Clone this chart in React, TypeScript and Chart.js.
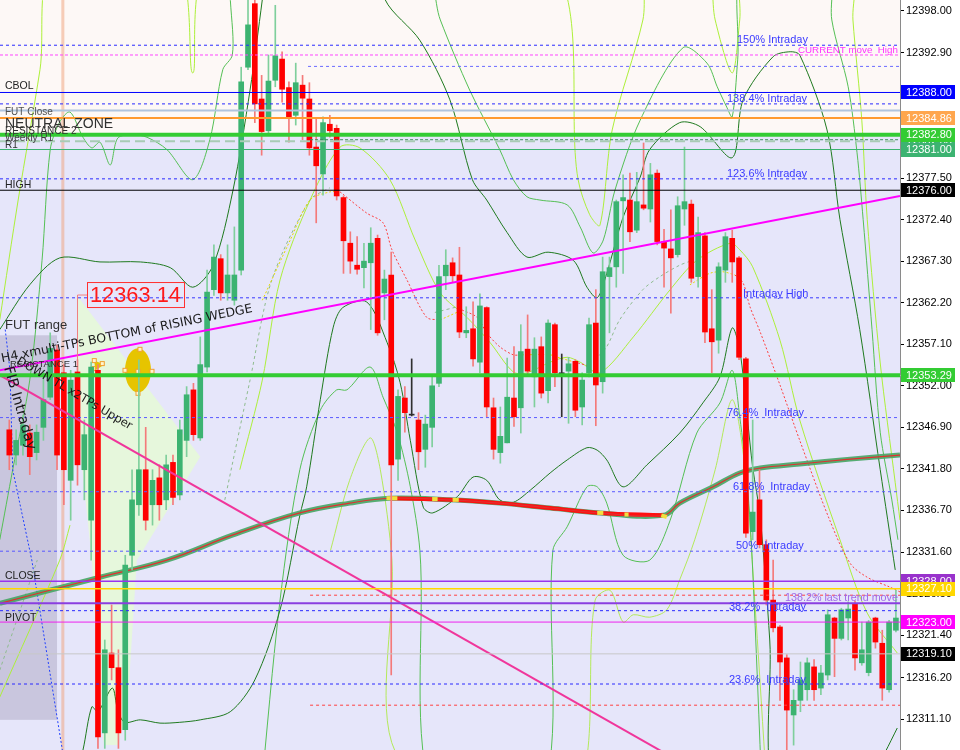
import React, { useEffect, useRef } from 'react';
import { Chart, registerables } from 'chart.js';

Chart.register(...registerables);

// ---------------- data ----------------
const OPEN = [12346.6,12343.5,12344.7,12346.2,12343.8,12346.9,12350.6,12356.4,12353.6,12340.4,12353.7,12341.7,12335.5,12353.9,12309.4,12319.2,12317.4,12309.8,12331.2,12337.4,12341.7,12337.4,12340.7,12338.0,12342.6,12338.6,12345.3,12351.5,12345.6,12354.3,12363.8,12367.6,12363.4,12362.5,12366.2,12391.1,12398.9,12387.2,12383.3,12389.5,12392.1,12388.6,12385.2,12388.9,12387.2,12381.3,12378.0,12384.1,12383.6,12375.1,12369.5,12366.8,12366.5,12367.1,12370.1,12363.4,12365.6,12343.0,12350.5,12348.5,12347.8,12344.2,12346.9,12352.3,12365.5,12367.1,12365.6,12358.5,12359.0,12354.9,12361.6,12349.3,12343.8,12345.0,12350.5,12349.3,12356.5,12353.1,12356.8,12351.4,12359.5,12353.6,12353.8,12355.0,12349.4,12353.6,12359.7,12352.5,12365.4,12366.6,12374.7,12374.8,12371.1,12374.2,12373.7,12378.1,12369.7,12368.8,12368.1,12373.7,12374.3,12365.4,12370.4,12359.0,12357.6,12366.2,12370.1,12367.7,12355.3,12334.1,12338.0,12332.5,12325.7,12322.4,12318.6,12311.6,12313.4,12314.7,12317.5,12314.9,12316.5,12323.5,12321.0,12323.5,12325.3,12318.0,12316.8,12323.5,12320.4,12314.7,12322.0];
const HIGH = [12347.8,12346.6,12348.4,12347.2,12347.2,12353.9,12358.5,12357.0,12354.6,12353.9,12355.2,12347.8,12354.9,12354.6,12320.8,12325.1,12319.6,12331.2,12341.7,12355.2,12346.9,12341.7,12342.3,12343.5,12343.5,12347.8,12351.9,12352.3,12358.0,12366.2,12369.3,12368.1,12369.3,12371.5,12391.1,12399.5,12399.5,12390.1,12392.6,12398.7,12393.0,12389.3,12391.6,12390.1,12389.2,12384.9,12385.0,12385.2,12384.0,12375.3,12370.9,12370.3,12369.5,12371.4,12370.5,12366.2,12368.4,12351.5,12351.9,12355.3,12348.7,12348.4,12353.1,12366.8,12368.7,12367.7,12369.0,12361.7,12362.3,12363.3,12361.7,12350.5,12349.4,12355.4,12356.8,12359.5,12360.7,12357.9,12358.0,12360.1,12359.7,12355.9,12355.5,12355.2,12353.6,12360.3,12363.8,12367.8,12367.8,12374.8,12377.9,12378.1,12378.2,12381.8,12379.3,12378.5,12371.2,12373.6,12375.2,12381.3,12374.8,12372.7,12370.8,12363.8,12367.1,12370.8,12371.1,12367.9,12355.5,12347.8,12341.7,12333.1,12330.6,12322.6,12319.0,12314.7,12318.1,12318.6,12318.4,12317.7,12324.5,12323.6,12324.7,12325.5,12325.6,12323.0,12323.2,12323.6,12322.0,12323.2,12326.9];
const LOW = [12341.7,12342.3,12343.5,12341.1,12342.9,12345.3,12350.3,12341.7,12337.4,12335.5,12339.8,12338.0,12330.6,12307.5,12307.5,12315.9,12307.5,12308.5,12329.4,12336.1,12334.3,12334.9,12335.5,12336.8,12337.4,12338.0,12343.3,12345.3,12345.3,12353.7,12363.1,12362.5,12362.5,12361.9,12365.6,12390.8,12384.3,12380.3,12383.0,12388.7,12386.8,12381.9,12384.0,12382.2,12380.3,12372.0,12375.4,12382.5,12374.8,12365.8,12365.8,12365.7,12364.0,12358.9,12358.2,12360.1,12316.5,12340.4,12346.3,12348.3,12341.7,12342.0,12344.5,12351.9,12363.8,12364.7,12357.9,12357.9,12354.4,12353.6,12348.2,12343.0,12342.5,12345.0,12347.0,12346.2,12353.3,12349.4,12350.5,12349.9,12351.9,12348.2,12347.4,12348.2,12347.2,12353.1,12347.1,12351.1,12358.5,12364.1,12365.8,12369.7,12370.8,12373.6,12372.1,12369.3,12364.1,12360.9,12367.8,12371.7,12364.7,12364.1,12357.3,12353.6,12356.0,12364.7,12364.7,12355.2,12333.4,12333.1,12332.1,12325.1,12321.8,12313.4,12307.3,12307.9,12312.0,12313.4,12313.4,12314.1,12315.9,12316.3,12320.8,12320.8,12317.1,12317.7,12316.4,12319.8,12313.4,12314.4,12321.8];
const CLOSE = [12343.5,12345.3,12347.2,12343.3,12346.3,12350.3,12356.6,12343.5,12341.7,12352.7,12342.3,12346.0,12354.3,12308.9,12319.6,12317.4,12309.4,12330.0,12338.0,12341.7,12335.5,12340.4,12337.4,12342.3,12338.3,12346.6,12350.9,12346.0,12354.6,12363.5,12367.8,12363.4,12365.6,12365.6,12389.3,12396.3,12386.6,12383.2,12389.4,12392.5,12388.4,12385.0,12389.2,12387.3,12381.2,12379.0,12384.3,12383.3,12375.3,12369.8,12367.3,12366.3,12367.3,12369.5,12358.5,12365.1,12342.3,12350.7,12348.7,12348.4,12343.9,12347.3,12352.0,12365.4,12366.8,12365.5,12358.6,12358.8,12355.3,12361.8,12349.4,12344.2,12345.8,12350.6,12348.2,12356.2,12353.8,12356.5,12351.1,12359.7,12353.6,12353.45,12354.7,12349.0,12352.7,12359.5,12352.1,12366.0,12366.5,12374.6,12375.1,12370.9,12374.6,12373.8,12377.9,12369.7,12368.9,12367.7,12374.1,12374.6,12365.2,12370.8,12358.6,12357.4,12366.6,12370.3,12367.2,12355.5,12333.9,12336.5,12332.5,12325.7,12322.3,12318.1,12312.2,12313.4,12315.9,12318.0,12314.7,12316.75,12323.9,12321.0,12324.5,12324.6,12318.6,12319.6,12323.0,12320.55,12314.9,12323.0,12323.5];

const Y_TICKS = [12398.0,12392.9,12387.8,12382.7,12377.5,12372.4,12367.3,12362.2,12357.1,12352.0,12346.9,12341.8,12336.7,12331.6,12326.5,12321.4,12316.2,12311.1];
const Y_MIN = 12307.3;
const Y_MAX = 12399.35;
const X_MIN = -1.364;
const X_MAX = 130.6;

// thick moving average
const MA = [[-1.4,12325.3],[13.3,12328.5],[23.1,12330.6],[32.8,12333.7],[42.6,12336.4],[49.9,12337.6],[55.8,12338.2],[64.6,12338.0],[71.9,12337.6],[79.3,12337.0],[86.6,12336.4],[95.9,12336.1],[98.3,12337.6],[103.2,12339.6],[107.1,12341.3],[110.1,12341.9],[115.9,12342.4],[123.3,12343.0],[130.6,12343.5]];
const MA_RED = [[55.8,12338.2],[64.6,12338.0],[71.9,12337.6],[79.3,12337.0],[86.6,12336.4],[95.9,12336.1]];
const MA_YELLOW = [
  [[55.3,12338.2],[56.9,12338.2]],
  [[62.0,12338.1],[62.8,12338.1]],
  [[65.0,12338.0],[65.9,12338.0]],
  [[86.2,12336.4],[87.1,12336.4]],
  [[90.2,12336.2],[90.8,12336.2]],
  [[95.6,12336.1],[96.4,12335.9]],
];

// bands
const DG_UPPER = [[-1.4,12358.9],[3.0,12364.4],[7.4,12367.7],[13.3,12367.2],[19.2,12367.2],[23.6,12366.5],[26.9,12364.1],[29.9,12366.8],[32.8,12376.0],[35.3,12388.3],[37.1,12399.4],[38.2,12406.7],[53.6,12406.7],[55.1,12399.4],[60.2,12394.4],[64.6,12387.1],[67.9,12377.3],[70.0,12374.8],[73.0,12370.8],[75.9,12367.8],[79.0,12368.4],[82.7,12367.4],[84.7,12364.1],[86.2,12362.8],[87.6,12365.8],[90.0,12372.7],[92.5,12377.6],[93.9,12381.0],[98.3,12384.3],[101.3,12383.8],[106.0,12380.0],[107.6,12387.1],[112.0,12392.4],[114.5,12393.0],[115.9,12392.6],[119.9,12383.4],[121.8,12372.4],[124.7,12358.9],[127.7,12341.7],[129.9,12329.4]];
const DG_LOWER = [[8.9,12301.2],[10.8,12307.3],[12.1,12312.6],[13.0,12312.0],[15.1,12314.9],[15.9,12312.2],[16.9,12310.7],[19.2,12311.0],[22.1,12310.6],[25.0,12310.7],[28.0,12311.0],[32.4,12312.0],[36.0,12315.9],[39.7,12324.5],[42.6,12336.1],[43.6,12339.6],[45.6,12350.3],[47.5,12359.2],[48.9,12361.6],[52.4,12362.3],[55.4,12357.3],[57.3,12352.4],[58.8,12345.3],[60.7,12337.1],[62.1,12336.4],[65.7,12338.4],[68.0,12340.8],[70.0,12340.4],[71.9,12338.0],[73.9,12337.7],[76.4,12339.2],[79.3,12341.3],[81.8,12342.9],[84.7,12344.4],[86.2,12344.1],[87.6,12342.9],[90.0,12339.6],[93.5,12342.3],[98.3,12346.2],[101.7,12349.9],[104.2,12353.1],[106.0,12359.1],[107.1,12356.4],[108.2,12348.2],[109.0,12342.0],[110.1,12335.9],[111.5,12320.8],[112.7,12301.2],[124.7,12301.2],[128.4,12307.0],[130.2,12310.0]];
const MG_UPPER = [[-1.4,12333.1],[0.5,12341.7],[3.0,12352.7],[4.8,12367.4],[6.0,12381.0],[7.4,12384.4],[8.9,12385.6],[10.8,12382.5],[12.1,12381.2],[13.3,12381.9],[14.8,12379.1],[15.9,12382.4],[18.1,12382.8],[20.2,12382.5],[23.1,12381.0],[26.9,12377.3],[29.4,12382.2],[31.3,12390.8],[32.7,12392.6],[33.8,12404.3],[60.2,12404.3],[63.2,12396.9],[67.5,12388.3],[71.9,12381.0],[73.9,12377.3],[75.9,12375.2],[77.8,12374.8],[81.8,12374.2],[83.7,12371.5],[85.6,12368.3],[87.1,12369.9],[88.8,12376.0],[92.5,12384.6],[98.8,12393.5],[102.3,12391.6],[103.8,12388.7],[105.2,12386.2],[106.0,12385.0],[106.8,12392.0],[107.9,12404.3],[120.0,12404.3],[120.6,12396.9],[123.0,12388.7],[124.3,12380.6],[125.2,12372.4],[126.5,12358.9],[127.7,12346.3],[129.4,12338.0],[130.3,12333.1]];
const MG_LOWER = [[36.8,12301.2],[39.7,12325.7],[42.6,12341.7],[45.6,12349.0],[48.0,12351.5],[49.5,12351.5],[52.9,12354.3],[54.8,12350.6],[56.9,12346.2],[58.8,12339.6],[60.2,12331.8],[62.4,12301.2],[77.8,12301.2],[79.7,12331.8],[81.8,12334.7],[84.7,12339.6],[86.2,12339.6],[87.6,12337.6],[90.0,12331.2],[93.9,12330.6],[96.9,12335.5],[100.8,12346.2],[104.2,12349.9],[106.0,12353.9],[107.1,12348.2],[108.2,12340.1],[109.0,12329.4],[110.4,12301.2]];
const YG_UPPER = [[-1.4,12360.1],[1.3,12374.8],[4.5,12390.8],[6.7,12404.3],[24.3,12404.3],[26.9,12390.4],[29.9,12404.3],[78.5,12404.3],[83.4,12377.3],[85.1,12373.0],[86.6,12371.7],[88.4,12383.4],[92.9,12396.9],[93.9,12404.3],[102.0,12404.3],[103.5,12396.9],[106.0,12390.4],[107.1,12396.9],[107.9,12404.3],[123.3,12404.3],[123.7,12396.9],[125.0,12384.6],[125.8,12372.4],[127.7,12354.8],[129.9,12340.1],[130.6,12335.5]];
const YG_MID = [[33.8,12341.7],[37.1,12352.7],[39.7,12365.0],[44.1,12374.8],[48.5,12381.3],[51.4,12381.2],[55.8,12377.3],[59.5,12369.9],[63.2,12363.4],[67.1,12360.4],[70.5,12357.3],[73.9,12353.7],[75.9,12353.6],[79.3,12354.9],[81.8,12355.5],[83.7,12354.9],[86.6,12353.6],[91.5,12358.0],[96.9,12363.8],[100.8,12367.4],[105.7,12369.5],[107.1,12368.7],[109.0,12366.6],[113.0,12357.6],[115.9,12347.8],[121.8,12333.1],[125.8,12324.1],[130.2,12319.2]];
const YG_LOWER = [[-1.4,12313.8],[7.4,12330.6],[8.9,12334.9]];
const YG_LOWER2 = [[47.1,12331.8],[49.9,12340.4],[52.9,12345.6],[54.4,12341.7],[56.1,12330.6],[57.3,12306.1],[82.2,12301.2],[85.9,12325.7],[88.1,12326.9],[90.0,12323.0],[91.5,12323.9],[93.9,12323.6],[96.4,12324.5],[98.3,12328.2],[100.5,12333.1],[103.5,12341.7],[106.0,12350.3],[107.9,12341.7],[109.3,12325.7],[110.8,12306.1]];
const RED_DOTS = [
  [[48.5,12375.8],[52.4,12373.2],[54.8,12372.0],[56.1,12368.7],[58.3,12365.0],[61.2,12360.4],[63.2,12360.1]],
  [[66.4,12361.3],[68.6,12360.4],[70.0,12358.5],[71.9,12356.8],[73.9,12355.8],[75.2,12355.8]],
  [[83.4,12354.8],[85.1,12354.4]],
  [[106.4,12365.6],[107.6,12364.6],[108.6,12361.7],[110.1,12358.6],[113.0,12352.1],[115.9,12345.3],[120.3,12335.5],[123.3,12330.2],[125.8,12328.5],[129.1,12327.3],[130.6,12326.7]],
];
const YELLOW_DOTS = [
  [[37.1,12362.5],[41.2,12369.9],[44.1,12374.8],[47.0,12375.8],[48.5,12375.8]],
  [[63.2,12360.1],[66.4,12361.3]],
  [[75.2,12355.8],[79.3,12355.8],[80.8,12355.4],[83.4,12354.8]],
  [[99.8,12364.4],[102.7,12365.8],[104.6,12366.0],[106.4,12365.6]],
];
const GRAY_DASH = [
  [[31.6,12338.0],[35.3,12352.7],[38.5,12365.0],[44.1,12374.8],[47.0,12376.3]],
  [[62.4,12361.0],[65.7,12361.7]],
  [[85.9,12355.2],[87.6,12356.8],[89.5,12360.1],[92.9,12363.8],[95.4,12365.4],[98.3,12366.8],[100.2,12367.4]],
  [[-1.4,12317.1],[4.1,12330.6]],
];
const BLUE_DOT_TL = [[-0.6,12358.9],[0.1,12353.9],[0.5,12341.7],[3.3,12330.6],[7.7,12307.7],[8.0,12306.1]];
const WEDGE_TL = [[-1.4,12353.9],[130.6,12375.3]];
const DOWN_TL = [[-1.4,12353.3],[97.2,12306.4]];

// objects
const ZONE_SPLIT = 12382.8;
const FUT_RANGE = { i0: -1.4, i1: 7.0, top: 12358.2, bottom: 12311.0 };
const GREEN_SHAPE = [[10.1,12362.9],[28.0,12343.3],[18.7,12330.6],[17.3,12312.2],[15.9,12307.9],[13.9,12307.9],[13.3,12312.2],[12.1,12330.6],[10.1,12346.6]];
const VLINE_IDX = 7.85;
const ELLIPSE = { i: 18.87, p: 12353.9 };
const PRICE_NOTE = { value: 12363.14, i: 10.0, low: 12353.9 };

const BLUE_T = '#3a3aff';
const DARK = '#222222';

const LEVELS = [
  { p: 12393.8, c: '#2a2aff', w: 1, d: [3, 3] },
  { p: 12392.6, c: '#ff44ff', w: 1, d: [3, 2] },
  { p: 12391.2, c: '#6a6aff', w: 1, d: [3, 3], from: 43.8 },
  { p: 12388.0, c: '#0000ff', w: 1 },
  { p: 12386.6, c: '#2a2aff', w: 1, d: [3, 3] },
  { p: 12385.8, c: '#b0c4de', w: 2 },
  { p: 12384.86, c: '#ff9a30', w: 2 },
  { p: 12382.8, c: '#33cc33', w: 4 },
  { p: 12382.2, c: '#3a8a5a', w: 1, d: [3, 2], from: 44.1 },
  { p: 12382.0, c: '#a8cbb5', w: 2, d: [10, 5] },
  { p: 12381.0, c: '#3cb371', w: 1 },
  { p: 12377.4, c: '#2a2aff', w: 1, d: [3, 3] },
  { p: 12376.0, c: '#000000', w: 1 },
  { p: 12362.8, c: '#3a3aff', w: 1, d: [3, 3] },
  { p: 12353.29, c: '#33cc33', w: 4 },
  { p: 12348.1, c: '#5a5aff', w: 1, d: [3, 3] },
  { p: 12339.0, c: '#5a5aff', w: 1, d: [3, 3] },
  { p: 12331.7, c: '#5a5aff', w: 1, d: [3, 3] },
  { p: 12328.0, c: '#9933ee', w: 1.5 },
  { p: 12327.1, c: '#ffd700', w: 1.5 },
  { p: 12326.3, c: '#ff4040', w: 1, d: [3, 3], from: 44.1 },
  { p: 12325.3, c: '#8a3ee0', w: 2 },
  { p: 12324.4, c: '#2a2aff', w: 1, d: [3, 3] },
  { p: 12323.0, c: '#ee22ee', w: 1 },
  { p: 12319.1, c: '#c8c8c8', w: 1 },
  { p: 12315.4, c: '#2a2aff', w: 1, d: [3, 3] },
  { p: 12312.8, c: '#ff4040', w: 1, d: [3, 3], from: 44.1 },
];

const AXIS_TAGS = [
  { p: 12388.0, bg: '#0000ff' },
  { p: 12384.86, bg: '#ffa64d' },
  { p: 12382.0, bg: '#3cb371' },
  { p: 12382.8, bg: '#33cc33' },
  { p: 12381.0, bg: '#3cb371' },
  { p: 12376.0, bg: '#000000' },
  { p: 12353.29, bg: '#33cc33' },
  { p: 12328.0, bg: '#9932cc' },
  { p: 12327.1, bg: '#ffd700' },
  { p: 12323.0, bg: '#ff00ff' },
  { p: 12319.1, bg: '#000000' },
];

// s = font size (px), w = fit to width (px)
const TEXTS = [
  { t: '150% Intraday', x: 737, p: 12393.8, dy: -2, c: BLUE_T, s: 11 },
  { t: 'CURRENT move  High', x: 798, p: 12392.6, dy: -2, c: '#ff33ff', w: 100 },
  { t: 'CBOL', x: 5, p: 12388.0, dy: -3, c: DARK, s: 10.5 },
  { t: '138.4% Intraday', x: 727, p: 12386.6, dy: -2, c: BLUE_T, s: 11 },
  { t: 'FUT Close', x: 5, p: 12385.8, dy: 5, c: '#505050', s: 10 },
  { t: 'NEUTRAL ZONE', x: 5, p: 12384.86, dy: 10, c: '#303030', s: 14 },
  { t: 'RESISTANCE 2', x: 5, p: 12382.8, dy: -1, c: '#303030', s: 10 },
  { t: 'Weekly R1', x: 5, p: 12382.0, dy: 0, c: '#404040', s: 10 },
  { t: 'R1', x: 5, p: 12381.0, dy: -2, c: '#303030', s: 10 },
  { t: '123.6% Intraday', x: 727, p: 12377.4, dy: -2, c: BLUE_T, s: 11 },
  { t: 'HIGH', x: 5, p: 12376.0, dy: -2, c: DARK, s: 10.5 },
  { t: 'Intraday High', x: 743, p: 12362.8, dy: -1, c: BLUE_T, s: 11 },
  { t: 'FUT range', x: 5, p: 12359.0, dy: 0, c: '#303030', s: 13 },
  { t: 'RESISTANCE 1', x: 10, p: 12353.29, dy: -8, c: '#303030', s: 9.5 },
  { t: 'H4 xmulti-TPs BOTTOM of RISING WEDGE', x: 2, p: 12354.9, dy: 0, c: '#1a1a1a', w: 256, a: -11.3 },
  { t: 'DOWN TL x2TPs Upper', x: 16, p: 12354.8, dy: 0, c: '#1a1a1a', w: 132, a: 30.4 },
  { t: 'FIB Intraday', x: 4, p: 12354.2, dy: 0, c: '#1a1a1a', w: 86, a: 74 },
  { t: '76.4%  Intraday', x: 727, p: 12348.1, dy: -2, c: BLUE_T, s: 11 },
  { t: '61.8%  Intraday', x: 733, p: 12339.0, dy: -2, c: BLUE_T, s: 11 },
  { t: '50%  Intraday', x: 736, p: 12331.7, dy: -2, c: BLUE_T, s: 11 },
  { t: 'CLOSE', x: 5, p: 12328.0, dy: -2, c: DARK, s: 10.5 },
  { t: '138.2% last trend move', x: 785, p: 12325.3, dy: -2, c: '#a06ae8', w: 113 },
  { t: '38.2%  Intraday', x: 729, p: 12324.4, dy: -1, c: BLUE_T, s: 11 },
  { t: 'PIVOT', x: 5, p: 12324.4, dy: 10, c: DARK, s: 10.5 },
  { t: '23.6%  Intraday', x: 729, p: 12315.4, dy: -1, c: BLUE_T, s: 11 },
];

const FONT = '"Liberation Sans", Arial, sans-serif';
const ROT_FONT = '"DejaVu Sans", Tahoma, sans-serif';

function drawText(ctx: CanvasRenderingContext2D, item: any, y: number) {
  ctx.save();
  const fam = item.a ? ROT_FONT : FONT;
  let size = item.s || 11;
  ctx.font = `${size}px ${fam}`;
  if (item.w) {
    const m = ctx.measureText(item.t).width;
    size = (size * item.w) / m;
    ctx.font = `${size.toFixed(2)}px ${fam}`;
  }
  ctx.fillStyle = item.c;
  ctx.textBaseline = 'alphabetic';
  ctx.translate(item.x, y);
  if (item.a) ctx.rotate((item.a * Math.PI) / 180);
  ctx.fillText(item.t, 0, 0);
  ctx.restore();
}

const mt4Plugin = {
  id: 'mt4',
  beforeDraw(chart: any) {
    const { ctx, chartArea: a } = chart;
    const X = (v: number) => chart.scales.x.getPixelForValue(v);
    const Y = (v: number) => chart.scales.y.getPixelForValue(v);
    ctx.save();
    ctx.beginPath();
    ctx.rect(a.left, a.top, a.width, a.height);
    ctx.clip();
    const zy = Y(ZONE_SPLIT);
    ctx.fillStyle = '#fdf8f6';
    ctx.fillRect(a.left, a.top, a.width, zy - a.top);
    ctx.fillStyle = '#e6e6fa';
    ctx.fillRect(a.left, zy, a.width, a.bottom - zy);
    ctx.fillStyle = '#c9c6de';
    ctx.fillRect(X(FUT_RANGE.i0), Y(FUT_RANGE.top), X(FUT_RANGE.i1) - X(FUT_RANGE.i0), Y(FUT_RANGE.bottom) - Y(FUT_RANGE.top));
    ctx.fillStyle = '#e6f7dc';
    ctx.beginPath();
    GREEN_SHAPE.forEach(([i, p], k) => (k ? ctx.lineTo(X(i), Y(p)) : ctx.moveTo(X(i), Y(p))));
    ctx.closePath();
    ctx.fill();
    ctx.strokeStyle = 'rgba(240,160,120,0.5)';
    ctx.lineWidth = 3;
    ctx.beginPath();
    ctx.moveTo(X(VLINE_IDX), a.top);
    ctx.lineTo(X(VLINE_IDX), a.bottom);
    ctx.stroke();
    const ex = X(ELLIPSE.i), ey = Y(ELLIPSE.p);
    ctx.fillStyle = '#e6c400';
    ctx.beginPath();
    ctx.ellipse(ex, ey, 13, 22, 0, 0, Math.PI * 2);
    ctx.fill();
    const mx = X(12.9), my = Y(12354.6);
    ctx.beginPath();
    ctx.moveTo(mx - 3, my - 4);
    ctx.lineTo(mx + 7, my);
    ctx.lineTo(mx - 2, my + 6);
    ctx.closePath();
    ctx.fill();
    ctx.strokeStyle = '#f0a030';
    ctx.fillStyle = '#fff6d0';
    ctx.lineWidth = 1;
    const hs = [[ex + 2, ey - 21], [ex - 13, ey], [ex + 14, ey + 1], [ex, ey + 1], [ex, ey + 23], [mx - 3, my - 4], [mx + 5, my - 1], [mx - 4, my + 4]];
    hs.forEach(([hx, hy]) => {
      ctx.fillRect(hx - 2, hy - 2, 4, 4);
      ctx.strokeRect(hx - 2, hy - 2, 4, 4);
    });
    ctx.restore();
  },
  afterDatasetsDraw(chart: any) {
    const { ctx, chartArea: a } = chart;
    const X = (v: number) => chart.scales.x.getPixelForValue(v);
    const Y = (v: number) => chart.scales.y.getPixelForValue(v);
    ctx.save();
    ctx.beginPath();
    ctx.rect(a.left, a.top, a.width, a.height);
    ctx.clip();
    LEVELS.forEach((l: any) => {
      const y = Y(l.p);
      ctx.strokeStyle = l.c;
      ctx.lineWidth = l.w;
      ctx.setLineDash(l.d || []);
      ctx.beginPath();
      ctx.moveTo(l.from !== undefined ? X(l.from) : a.left, y);
      ctx.lineTo(a.right, y);
      ctx.stroke();
    });
    ctx.setLineDash([]);
    const ny = Y(PRICE_NOTE.value);
    const cx = X(PRICE_NOTE.i);
    ctx.strokeStyle = '#f08080';
    ctx.lineWidth = 1;
    ctx.beginPath();
    ctx.moveTo(87, ny);
    ctx.lineTo(cx, ny);
    ctx.lineTo(cx, Y(PRICE_NOTE.low));
    ctx.stroke();
    ctx.strokeStyle = '#ff3030';
    ctx.strokeRect(87.5, ny - 12.5, 97, 25);
    ctx.font = `22px "Liberation Sans", Arial, sans-serif`;
    const m = ctx.measureText('12363.14').width;
    ctx.font = `${(22 * 91) / m}px "Liberation Sans", Arial, sans-serif`;
    ctx.fillStyle = '#ff1a1a';
    ctx.textBaseline = 'middle';
    ctx.fillText(PRICE_NOTE.value.toFixed(2), 90, ny + 1);
    ctx.textBaseline = 'alphabetic';
    TEXTS.forEach((t) => drawText(ctx, t, Y(t.p) + t.dy));
    ctx.restore();
  },
  afterDraw(chart: any) {
    const { ctx, chartArea: a } = chart;
    const Y = (v: number) => chart.scales.y.getPixelForValue(v);
    ctx.save();
    ctx.font = `11px ${FONT}`;
    ctx.textBaseline = 'middle';
    AXIS_TAGS.forEach((tg) => {
      const y = Y(tg.p);
      ctx.fillStyle = tg.bg;
      ctx.fillRect(a.right + 1, Math.round(y) - 7, 54, 14);
      ctx.fillStyle = '#ffffff';
      ctx.fillText(tg.p.toFixed(2), a.right + 6, y + 0.5);
    });
    ctx.restore();
  },
};

const pts = (arr: number[][]) => arr.map(([x, y]) => ({ x, y }));
function lineDs(arr: number[][], color: string, width: number, order: number, dash: number[] = [], tension = 0.3) {
  return {
    type: 'line',
    data: pts(arr),
    borderColor: color,
    borderWidth: width,
    borderDash: dash,
    pointRadius: 0,
    fill: false,
    tension,
    order,
  };
}

export default function App() {
  const ref = useRef<HTMLCanvasElement | null>(null);
  useEffect(() => {
    if (!ref.current) return;
    const isDoji = (i: number) => Math.abs(OPEN[i] - CLOSE[i]) < 0.2;
    const bodyColors = OPEN.map((o, i) => (isDoji(i) ? '#303030' : CLOSE[i] >= o ? '#3cb371' : '#ff0000'));
    const wickColors = OPEN.map((o, i) => (isDoji(i) ? '#303030' : CLOSE[i] >= o ? '#7fcf9c' : '#f47a7a'));

    const datasets: any[] = [
      lineDs(DG_UPPER, '#1f7a1f', 1, 30),
      lineDs(DG_LOWER, '#1f7a1f', 1, 30),
      lineDs(MG_UPPER, '#55c055', 1, 30),
      lineDs(MG_LOWER, '#55c055', 1, 30),
      lineDs(YG_UPPER, '#adf03a', 1, 30),
      lineDs(YG_MID, '#adf03a', 1, 30),
      lineDs(YG_LOWER, '#adf03a', 1, 30),
      lineDs(YG_LOWER2, '#b4ea5a', 1, 30),
      ...RED_DOTS.map((s) => lineDs(s, '#ff4040', 1, 29, [2, 2])),
      ...YELLOW_DOTS.map((s) => lineDs(s, '#e6dc00', 1, 29, [2, 2])),
      ...GRAY_DASH.map((s) => lineDs(s, '#8fbc8f', 1, 29, [3, 3])),
      lineDs(BLUE_DOT_TL, '#2040ff', 1, 29, [2, 2], 0),
      lineDs(MA, 'rgba(70,165,100,0.9)', 5, 25, [], 0.4),
      lineDs(MA_RED, '#ff1010', 4, 24, [], 0.4),
      lineDs(MA, '#e03030', 1.2, 23, [], 0.4),
      ...MA_YELLOW.map((s) => lineDs(s, '#f0e040', 4, 22, [], 0)),
      {
        type: 'bar',
        data: OPEN.map((_, i) => ({ x: i, y: [LOW[i], HIGH[i]] })),
        backgroundColor: wickColors,
        barThickness: 1,
        grouped: false,
        order: 10,
      },
      {
        type: 'bar',
        data: OPEN.map((o, i) => ({ x: i, y: [o, CLOSE[i]] })),
        backgroundColor: bodyColors,
        barThickness: 5,
        minBarLength: 1,
        grouped: false,
        order: 9,
      },
      lineDs(WEDGE_TL, '#ff00ff', 2, 2, [], 0),
      lineDs(DOWN_TL, '#f0369b', 2, 2, [], 0),
    ];

    const chart = new Chart(ref.current, {
      type: 'bar',
      data: { datasets },
      options: {
        animation: false,
        responsive: false,
        devicePixelRatio: 1,
        events: [],
        layout: { padding: 0 },
        plugins: { legend: { display: false }, tooltip: { enabled: false } },
        scales: {
          x: { type: 'linear', min: X_MIN, max: X_MAX, display: false, offset: false },
          y: {
            position: 'right',
            min: Y_MIN,
            max: Y_MAX,
            afterFit: (s: any) => {
              s.width = 60;
              s.paddingTop = 0;
              s.paddingBottom = 0;
            },
            afterBuildTicks: (s: any) => {
              s.ticks = Y_TICKS.map((v) => ({ value: v }));
            },
            ticks: {
              autoSkip: false,
              callback: (v: any) => Number(v).toFixed(2),
              font: { family: FONT, size: 11 },
              color: '#000000',
              padding: 2,
            },
            grid: { drawOnChartArea: false, drawTicks: true, tickLength: 4, color: '#000000' },
            border: { display: true, color: '#8a8a8a', width: 1 },
          },
        },
      } as any,
      plugins: [mt4Plugin as any],
    });
    return () => chart.destroy();
  }, []);

  return (
    <div style={{ position: 'fixed', left: 0, top: 0, width: 960, height: 750, background: '#ffffff' }}>
      <canvas ref={ref} width={960} height={750} style={{ display: 'block', width: 960, height: 750 }} />
    </div>
  );
}
